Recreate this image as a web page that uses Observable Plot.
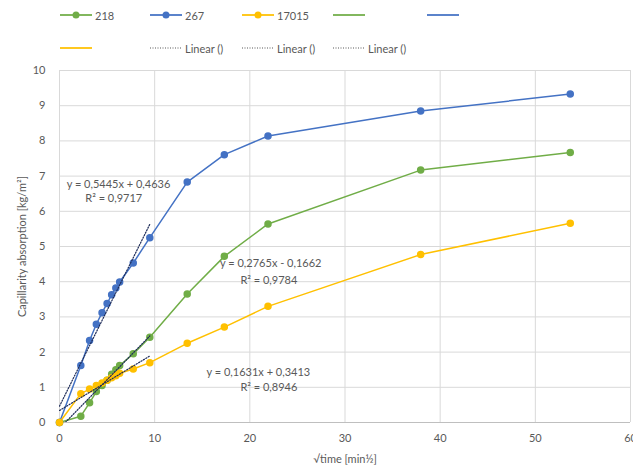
<!DOCTYPE html>
<html><head><meta charset="utf-8">
<script src="https://cdn.jsdelivr.net/npm/d3@7"></script>
<script src="https://cdn.jsdelivr.net/npm/@observablehq/plot@0.6"></script>
<style>
body{margin:0;background:#fff;font-family:Lato,"Open Sans",sans-serif;}
#legend{position:relative;width:633px;height:60px;}
.item{position:absolute;display:flex;align-items:center;font-size:11px;color:#595959;height:14px;}
.item svg{margin-right:3px;}
</style></head><body>
<div id="legend"></div>
<div id="chart"></div>
<script>
// √time (min^0.5)
const sqrtTime = [0, 2.24, 3.16, 3.87, 4.47, 5.00, 5.48, 5.92, 6.32, 7.75, 9.49, 13.42, 17.32, 21.91, 37.95, 53.67];
const seriesNames = ["218", "267", "17015"];
const abs218   = [0, 0.18, 0.56, 0.88, 1.05, 1.20, 1.37, 1.50, 1.62, 1.95, 2.42, 3.65, 4.72, 5.64, 7.17, 7.67];
const abs267   = [0, 1.62, 2.33, 2.79, 3.12, 3.38, 3.63, 3.82, 3.99, 4.53, 5.25, 6.83, 7.61, 8.14, 8.85, 9.33];
const abs17015 = [0, 0.82, 0.95, 1.05, 1.12, 1.20, 1.27, 1.33, 1.40, 1.52, 1.70, 2.25, 2.71, 3.30, 4.77, 5.66];
const seriesColors = ["#70AD47", "#4472C4", "#FFC000"];
// linear trendlines fitted on the first 11 points (0 … 9.49)
const trendSlope = [0.2765, 0.5445, 0.1631];
const trendIntercept = [-0.1662, 0.4636, 0.3413];
const trendEnd = 9.49;
const eqText = ["y = 0,2765x - 0,1662", "y = 0,5445x + 0,4636", "y = 0,1631x + 0,3413"];
const r2Text = ["R² = 0,9784", "R² = 0,9717", "R² = 0,8946"];
// label anchors (data units)
const eqPos = [[22.2, 4.52], [6.2, 6.76], [20.9, 1.42]];
const r2Pos = [[22.0, 4.03], [5.7, 6.36], [22.0, 0.99]];
const xTicks = [0, 10, 20, 30, 40, 50, 60];
const yTicks = [0, 1, 2, 3, 4, 5, 6, 7, 8, 9, 10];

const allSeries = [abs218, abs267, abs17015];
const points = [];
allSeries.forEach((arr, i) => arr.forEach((v, j) => points.push({x: sqrtTime[j], y: v, s: seriesNames[i]})));
const trend = [];
seriesNames.forEach((s, i) => {
  [0, trendEnd].forEach(x => trend.push({x, y: trendSlope[i] * x + trendIntercept[i], s}));
});
const labels = [];
seriesNames.forEach((s, i) => {
  labels.push({x: eqPos[i][0], y: eqPos[i][1], t: eqText[i]});
  labels.push({x: r2Pos[i][0], y: r2Pos[i][1], t: r2Text[i]});
});

const color = {domain: seriesNames, range: seriesColors};
const plot = Plot.plot({
  width: 633, height: 410,
  marginLeft: 59, marginRight: 3, marginTop: 10, marginBottom: 48,
  style: {fontFamily: "Lato, 'Open Sans', sans-serif", fontSize: "11px", color: "#595959", background: "#fff"},
  x: {domain: [0, 60]},
  y: {domain: [0, 10]},
  color,
  marks: [
    Plot.gridY(yTicks, {stroke: "#d9d9d9", strokeOpacity: 1}),
    Plot.gridX(xTicks, {stroke: "#d9d9d9", strokeOpacity: 1}),
    Plot.axisX({ticks: xTicks, tickSize: 0, tickPadding: 12, fill: "#595959",
      label: "√time [min½]", labelAnchor: "center", labelArrow: "none", labelOffset: 40}),
    Plot.axisY({ticks: yTicks, tickSize: 0, tickPadding: 14, fill: "#595959",
      label: "Capillarity absorption [kg/m²]", labelAnchor: "center", labelArrow: "none", labelOffset: 41}),
    Plot.ruleY([0], {stroke: "#bfbfbf"}),
    Plot.line(points, {x: "x", y: "y", z: "s", stroke: "s", strokeWidth: 1.5}),
    Plot.dot(points, {x: "x", y: "y", fill: "s", r: 3, stroke: "s"}),
    Plot.line(trend, {x: "x", y: "y", z: "s", stroke: "#1f2d5a", strokeWidth: 1.2, strokeDasharray: "1.2,1.6", clip: true}),
    Plot.text(labels, {x: "x", y: "y", text: "t", fill: "#595959", fontSize: 11})
  ]
});
document.getElementById("chart").appendChild(plot);

// legend
const legendItems = [
  {col: 0, row: 0, c: seriesColors[0], marker: true, dash: null, label: "218"},
  {col: 1, row: 0, c: seriesColors[1], marker: true, dash: null, label: "267"},
  {col: 2, row: 0, c: seriesColors[2], marker: true, dash: null, label: "17015"},
  {col: 3, row: 0, c: seriesColors[0], marker: false, dash: null, label: ""},
  {col: 4, row: 0, c: seriesColors[1], marker: false, dash: null, label: ""},
  {col: 0, row: 1, c: seriesColors[2], marker: false, dash: null, label: ""},
  {col: 1, row: 1, c: "#595959", marker: false, dash: "1,1.5", label: "Linear ()"},
  {col: 2, row: 1, c: "#595959", marker: false, dash: "1,1.5", label: "Linear ()"},
  {col: 3, row: 1, c: "#595959", marker: false, dash: "1,1.5", label: "Linear ()"}
];
const colX = [60, 150, 242, 333, 427];
const rowY = [8, 41];
const leg = d3.select("#legend");
legendItems.forEach(it => {
  const d = leg.append("div").attr("class", "item").style("left", colX[it.col] + "px").style("top", rowY[it.row] + "px");
  const s = d.append("svg").attr("width", 32).attr("height", 14);
  s.append("line").attr("x1", 0).attr("x2", 32).attr("y1", 7).attr("y2", 7)
    .attr("stroke", it.c).attr("stroke-width", it.dash ? 1.2 : 1.75).attr("stroke-dasharray", it.dash);
  if (it.marker) s.append("circle").attr("cx", 16).attr("cy", 7).attr("r", 3.5).attr("fill", it.c);
  if (it.label) d.append("span").text(it.label);
});
</script>
</body></html>
